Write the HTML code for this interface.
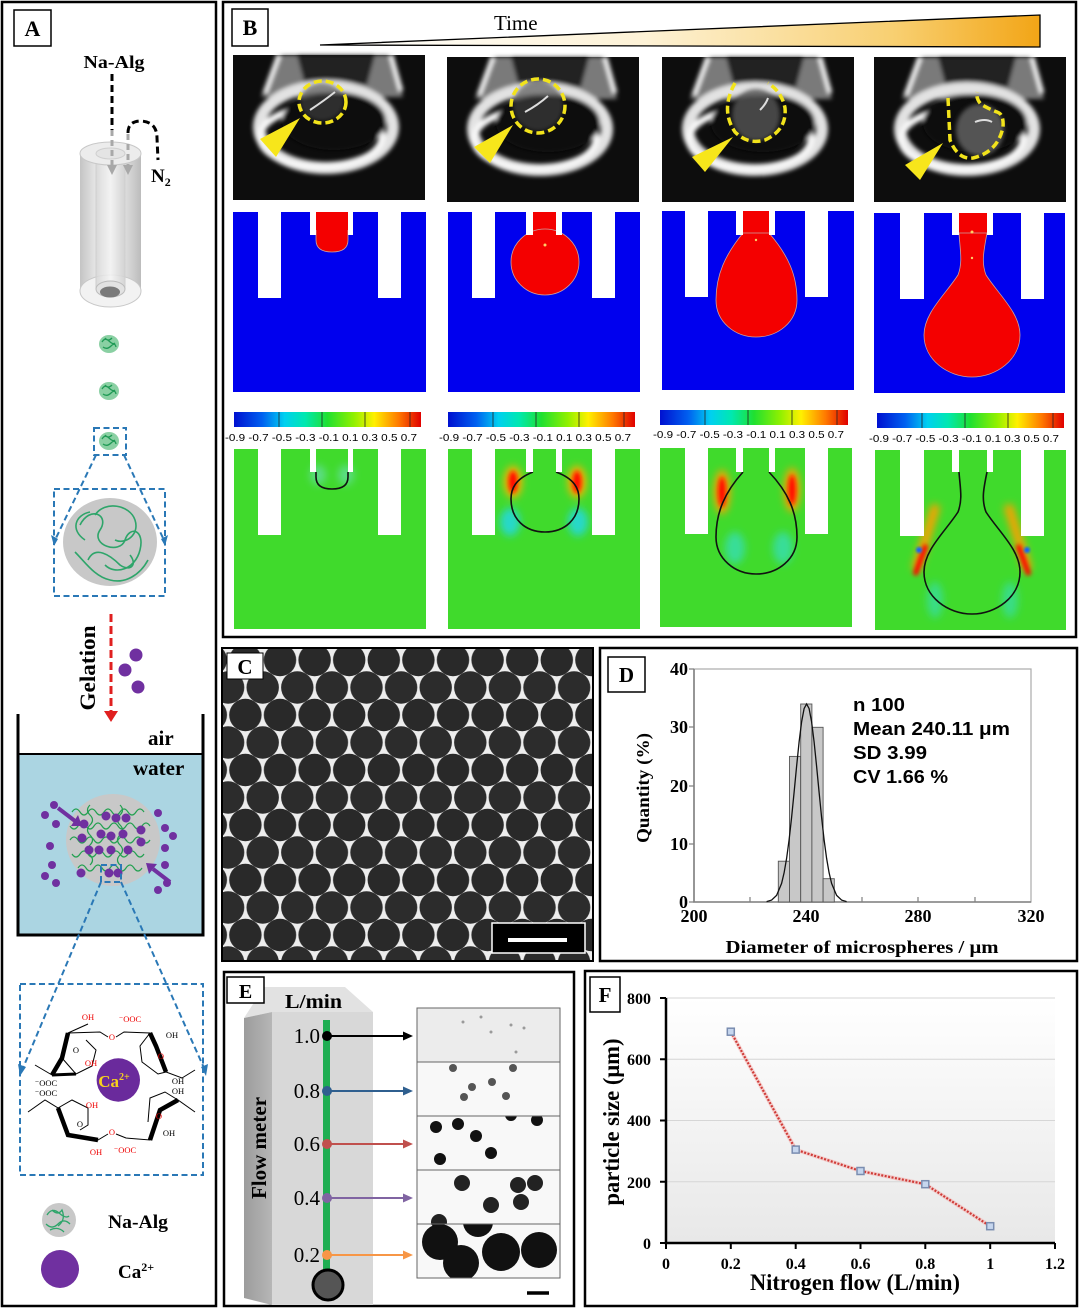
<!DOCTYPE html>
<html><head><meta charset="utf-8">
<style>
html,body{margin:0;padding:0;background:#fff;}
svg{display:block;}
.s{font-family:"Liberation Serif",serif;}
.b{font-family:"Liberation Serif",serif;font-weight:bold;}
.a{font-family:"Liberation Sans",sans-serif;font-weight:bold;}
</style></head><body>
<svg width="1080" height="1309" viewBox="0 0 1080 1309" xmlns="http://www.w3.org/2000/svg">
<defs>
<filter id="bl1" x="-20%" y="-20%" width="140%" height="140%"><feGaussianBlur stdDeviation="1.2"/></filter>
<filter id="bl2" x="-20%" y="-20%" width="140%" height="140%"><feGaussianBlur stdDeviation="2"/></filter>
<filter id="bl4" x="-50%" y="-50%" width="200%" height="200%"><feGaussianBlur stdDeviation="4"/></filter>
<linearGradient id="tri" x1="0" y1="0" x2="1" y2="0">
<stop offset="0" stop-color="#ffffff"/><stop offset="0.45" stop-color="#fdf2d6"/><stop offset="0.8" stop-color="#f8cf70"/><stop offset="1" stop-color="#f2a516"/>
</linearGradient>
<linearGradient id="jet" x1="0" y1="0" x2="1" y2="0">
<stop offset="0" stop-color="#0010d0"/><stop offset="0.15" stop-color="#0060f0"/><stop offset="0.27" stop-color="#00d0f0"/><stop offset="0.38" stop-color="#00e8b0"/><stop offset="0.5" stop-color="#20e030"/><stop offset="0.64" stop-color="#90f000"/><stop offset="0.75" stop-color="#fff000"/><stop offset="0.88" stop-color="#ff7a00"/><stop offset="1" stop-color="#e00000"/>
</linearGradient>
<linearGradient id="cyl" x1="0" y1="0" x2="1" y2="0">
<stop offset="0" stop-color="#c4c4c4"/><stop offset="0.35" stop-color="#f2f2f2"/><stop offset="0.7" stop-color="#e2e2e2"/><stop offset="1" stop-color="#bcbcbc"/>
</linearGradient>
<linearGradient id="cyl2" x1="0" y1="0" x2="1" y2="0">
<stop offset="0" stop-color="#d6d6d6"/><stop offset="0.5" stop-color="#f4f4f4"/><stop offset="1" stop-color="#d0d0d0"/>
</linearGradient>
<linearGradient id="fbg" x1="0" y1="0" x2="0" y2="1">
<stop offset="0" stop-color="#ffffff"/><stop offset="1" stop-color="#e8e8e8"/>
</linearGradient>
<linearGradient id="side" x1="0" y1="0" x2="1" y2="0">
<stop offset="0" stop-color="#9c9c9c"/><stop offset="1" stop-color="#b6b6b6"/>
</linearGradient>
<pattern id="beads" x="280" y="660" width="34.6" height="55" patternUnits="userSpaceOnUse">
<rect width="34.6" height="55" fill="#ededed"/>
<circle cx="0" cy="0" r="16.2" fill="#292929"/>
<circle cx="34.6" cy="0" r="16.2" fill="#292929"/>
<circle cx="0" cy="55" r="16.2" fill="#292929"/>
<circle cx="34.6" cy="55" r="16.2" fill="#292929"/>
<circle cx="17.3" cy="27.5" r="16.2" fill="#2c2c2c"/>
</pattern>
<clipPath id="cpC"><rect x="222" y="648" width="371" height="313"/></clipPath>
<clipPath id="r1"><rect x="417" y="1008" width="143" height="54"/></clipPath>
<clipPath id="r2"><rect x="417" y="1062" width="143" height="54"/></clipPath>
<clipPath id="r3"><rect x="417" y="1116" width="143" height="54"/></clipPath>
<clipPath id="r4"><rect x="417" y="1170" width="143" height="54"/></clipPath>
<clipPath id="r5"><rect x="417" y="1224" width="143" height="54"/></clipPath>
<g id="ph">
<rect width="192" height="145" fill="#0d0d0d"/>
<g filter="url(#bl2)">
<path d="M44,0 L160,0 L170,42 L28,42 Z" fill="#7a7a7a"/>
<path d="M64,0 L142,0 L134,30 L72,30 Z" fill="#242424"/>
<path d="M46,0 L32,38 M158,0 L168,36" stroke="#eeeeee" stroke-width="5" fill="none"/>
<ellipse cx="93" cy="72" rx="67" ry="41" fill="none" stroke="#e2e2e2" stroke-width="12"/>
<ellipse cx="88" cy="82" rx="61" ry="30" fill="none" stroke="#f6f6f6" stroke-width="7"/>
<ellipse cx="101" cy="66" rx="52" ry="29" fill="#0b0b0b"/>
</g>
</g>
<g id="drop">
<ellipse cx="109" cy="344" rx="10" ry="9" fill="#8ad0a3"/>
<path d="M102,342 q3,-5 7,-1 t6,2 M103,347 q4,3 8,-1 t5,1 M105,338 q3,4 7,0" stroke="#1f9a55" stroke-width="1.3" fill="none"/>
</g>
</defs>
<rect width="1080" height="1309" fill="#fff"/>

<!-- ================= PANEL A ================= -->
<rect x="2" y="2" width="214" height="1304" fill="none" stroke="#000" stroke-width="2.5"/>
<rect x="14" y="10" width="37" height="36" fill="#fff" stroke="#000" stroke-width="1.5"/>
<text x="32.5" y="36" class="b" font-size="22" text-anchor="middle">A</text>
<text x="114" y="68" class="b" font-size="18" text-anchor="middle" textLength="61" lengthAdjust="spacingAndGlyphs">Na-Alg</text>
<line x1="112" y1="74" x2="112" y2="130" stroke="#000" stroke-width="3" stroke-dasharray="7 4"/>
<rect x="80" y="153" width="61" height="138" fill="url(#cyl)"/>
<ellipse cx="110.5" cy="291" rx="30.5" ry="16" fill="#f2f2f2" stroke="#c8c8c8"/>
<rect x="96" y="153" width="29" height="136" fill="url(#cyl2)" opacity="0.85"/>
<line x1="96" y1="153" x2="96" y2="289" stroke="#cfcfcf"/>
<line x1="125" y1="153" x2="125" y2="289" stroke="#cfcfcf"/>
<ellipse cx="110.5" cy="289" rx="14.5" ry="8" fill="#e2e2e2" stroke="#bbb"/>
<ellipse cx="110" cy="292" rx="10" ry="5.5" fill="#7a7a7a"/>
<ellipse cx="110.5" cy="153.5" rx="30.5" ry="11.5" fill="#ececec" stroke="#c8c8c8"/>
<ellipse cx="110.5" cy="153.5" rx="14.5" ry="5.5" fill="#e4e4e4" stroke="#cfcfcf"/>
<line x1="112" y1="130" x2="112" y2="166" stroke="#a8a8a8" stroke-width="3" stroke-dasharray="6 4"/>
<polygon points="107,165 117,165 112,175" fill="#a8a8a8"/>
<line x1="128" y1="134" x2="128" y2="166" stroke="#a8a8a8" stroke-width="3" stroke-dasharray="6 4"/>
<polygon points="123,165 133,165 128,175" fill="#a8a8a8"/>
<path d="M128,133 Q128,121 141,121 Q157,122 157,138 L158,160" fill="none" stroke="#000" stroke-width="3" stroke-dasharray="7 4"/>
<text x="151" y="182" class="b" font-size="19">N<tspan font-size="12" dy="4">2</tspan></text>
<use href="#drop"/>
<use href="#drop" y="47"/>
<use href="#drop" y="97"/>
<g stroke="#2a78b6" stroke-width="2" fill="none" stroke-dasharray="6 3.5">
<rect x="94" y="428" width="32" height="27"/>
<rect x="54" y="489" width="111" height="107"/>
<line x1="96" y1="455" x2="56" y2="538"/>
<line x1="124" y1="455" x2="163" y2="538"/>
</g>
<polygon points="51,535 58,539 54,546" fill="#2a78b6"/>
<polygon points="161,539 168,535 165,546" fill="#2a78b6"/>
<ellipse cx="110" cy="542" rx="47" ry="44" fill="#c8c8c8"/>
<g stroke="#2ea56a" stroke-width="1.6" fill="none">
<path d="M80,525 C90,505 110,515 100,530 C90,545 120,555 125,540 C130,525 145,530 140,550 C135,570 115,575 105,565"/>
<path d="M75,552 C85,562 95,577 110,580 C125,584 140,575 148,560"/>
<path d="M95,515 C105,500 130,505 135,520 C140,535 125,545 115,540"/>
<path d="M85,540 C70,530 75,515 90,512"/>
<path d="M88,560 C95,545 110,555 120,565 C130,572 138,565 130,555"/>
</g>
<line x1="111" y1="614" x2="111" y2="712" stroke="#e02020" stroke-width="3" stroke-dasharray="8 4"/>
<polygon points="104,711 118,711 111,722" fill="#e02020"/>
<text transform="translate(95,668) rotate(-90)" class="b" font-size="22" text-anchor="middle" textLength="85" lengthAdjust="spacingAndGlyphs">Gelation</text>
<circle cx="136" cy="655" r="6.5" fill="#7030a0"/>
<circle cx="125" cy="670" r="6.5" fill="#7030a0"/>
<circle cx="138" cy="687" r="6.5" fill="#7030a0"/>
<rect x="18" y="754" width="185" height="181" fill="#abd5e2"/>
<line x1="18" y1="754" x2="203" y2="754" stroke="#000" stroke-width="2"/>
<path d="M18,714 L18,935 L203,935 L203,714" fill="none" stroke="#000" stroke-width="3"/>
<text x="148" y="745" class="b" font-size="21">air</text>
<text x="133" y="775" class="b" font-size="21">water</text>
<ellipse cx="113" cy="840" rx="47" ry="46" fill="#c8c8c8"/>
<g stroke="#22a050" stroke-width="1.2" fill="none">
<path d="M72,812 q4,-6 8,0 t8,0 t8,0 t8,0 t8,0 t8,0 t8,0 t8,0 t8,0"/>
<path d="M70,826 q4,6 8,0 t8,0 t8,0 t8,0 t8,0 t8,0 t8,0 t8,0 t8,0 t8,0"/>
<path d="M70,840 q4,-6 8,0 t8,0 t8,0 t8,0 t8,0 t8,0 t8,0 t8,0 t8,0 t8,0"/>
<path d="M72,854 q4,6 8,0 t8,0 t8,0 t8,0 t8,0 t8,0 t8,0 t8,0 t8,0"/>
<path d="M78,868 q4,-6 8,0 t8,0 t8,0 t8,0 t8,0 t8,0 t8,0 t8,0"/>
<path d="M90,805 q-5,5 0,10 t0,10 t0,10 t0,10 t0,10 t0,10"/>
<path d="M120,805 q5,5 0,10 t0,10 t0,10 t0,10 t0,10 t0,10"/>
</g>
<g fill="#7030a0">
<circle cx="106" cy="816" r="4.5"/><circle cx="116" cy="818" r="4.5"/><circle cx="126" cy="818" r="4.5"/>
<circle cx="84" cy="824" r="4.5"/><circle cx="101" cy="834" r="4.5"/><circle cx="111" cy="836" r="4.5"/>
<circle cx="123" cy="834" r="4.5"/><circle cx="141" cy="830" r="4.5"/><circle cx="82" cy="838" r="4.5"/>
<circle cx="89" cy="850" r="4.5"/><circle cx="99" cy="850" r="4.5"/><circle cx="111" cy="850" r="4.5"/>
<circle cx="128" cy="850" r="4.5"/><circle cx="141" cy="842" r="4.5"/><circle cx="81" cy="873" r="4.5"/>
<circle cx="109" cy="873" r="4.5"/><circle cx="118" cy="873" r="4.5"/>
<circle cx="45" cy="815" r="4"/><circle cx="54" cy="805" r="4"/><circle cx="56" cy="824" r="4"/>
<circle cx="50" cy="846" r="4"/><circle cx="52" cy="865" r="4"/><circle cx="45" cy="876" r="4"/>
<circle cx="56" cy="883" r="4"/><circle cx="158" cy="813" r="4"/><circle cx="165" cy="828" r="4"/>
<circle cx="173" cy="836" r="4"/><circle cx="165" cy="848" r="4"/><circle cx="165" cy="865" r="4"/>
<circle cx="167" cy="883" r="4"/><circle cx="158" cy="890" r="4"/>
</g>
<line x1="58" y1="808" x2="75" y2="821" stroke="#7030a0" stroke-width="4"/>
<polygon points="82,826 71,826 78,815" fill="#7030a0"/>
<line x1="170" y1="882" x2="153" y2="869" stroke="#7030a0" stroke-width="4"/>
<polygon points="146,863 157,864 149,874" fill="#7030a0"/>
<g stroke="#2a78b6" stroke-width="2" fill="none" stroke-dasharray="6 3.5">
<rect x="101" y="865" width="20" height="17"/>
<line x1="101" y1="882" x2="23" y2="1068"/>
<line x1="121" y1="882" x2="204" y2="1068"/>
<rect x="20" y="984" width="183" height="191"/>
</g>
<polygon points="18,1064 26,1067 20,1076" fill="#2a78b6"/>
<polygon points="201,1067 208,1064 206,1076" fill="#2a78b6"/>
<g stroke="#000" fill="none" stroke-width="1">
<path d="M35,1065 L52,1075 L62,1058 L68,1033 L100,1032 L108,1037"/>
<path d="M68,1033 L88,1024"/>
<path d="M62,1058 L76,1074 L92,1066 L96,1050 L86,1040"/>
<path d="M68,1033 L62,1058 L52,1075" stroke-width="4.5"/>
<path d="M52,1075 L76,1074" stroke-width="3"/>
<path d="M116,1037 L124,1032 L150,1033 L156,1046 L166,1072 L182,1078 L195,1070"/>
<path d="M150,1033 L140,1046 L142,1062 L158,1074 L166,1072"/>
<path d="M150,1033 L156,1046 L166,1072" stroke-width="4.5"/>
<path d="M28,1112 L45,1100 L58,1108 L68,1135 L98,1140 L108,1134"/>
<path d="M58,1108 L72,1100 L88,1108 L88,1125 L80,1130"/>
<path d="M58,1108 L68,1135 L98,1140" stroke-width="4.5"/>
<path d="M116,1134 L126,1138 L150,1140 L160,1110 L178,1100 L195,1112"/>
<path d="M178,1100 L165,1092 L150,1098 L148,1122"/>
<path d="M150,1140 L160,1110 L178,1100" stroke-width="4.5"/>
</g>
<g class="s" font-size="8.5" text-anchor="middle">
<text x="88" y="1020" fill="#e00">OH</text>
<text x="130" y="1022" fill="#e00">⁻OOC</text>
<text x="112" y="1040" fill="#e00">O</text>
<text x="172" y="1038" fill="#000">OH</text>
<text x="76" y="1053" fill="#000">O</text>
<text x="161" y="1059" fill="#e00">O</text>
<text x="91" y="1066" fill="#e00">OH</text>
<text x="178" y="1084" fill="#000">OH</text>
<text x="46" y="1086" fill="#000">⁻OOC</text>
<text x="46" y="1096" fill="#000">⁻OOC</text>
<text x="178" y="1094" fill="#000">OH</text>
<text x="92" y="1108" fill="#e00">OH</text>
<text x="159" y="1119" fill="#e00">O</text>
<text x="80" y="1127" fill="#000">O</text>
<text x="112" y="1135" fill="#e00">O</text>
<text x="169" y="1136" fill="#000">OH</text>
<text x="96" y="1155" fill="#e00">OH</text>
<text x="125" y="1153" fill="#e00">⁻OOC</text>
</g>
<circle cx="118.3" cy="1080" r="21.7" fill="#6a2a9c"/>
<text x="114" y="1087" class="b" font-size="17" fill="#f7d21c" text-anchor="middle">Ca<tspan font-size="10" dy="-7">2+</tspan></text>
<circle cx="59" cy="1220" r="17" fill="#c8c8c8"/>
<path d="M47,1215 q5,-8 12,-2 t10,3 M46,1224 q6,6 12,0 t12,0 M52,1210 q6,6 10,0 q4,10 -4,16 M50,1230 q8,-4 14,2" stroke="#2ea56a" stroke-width="1.3" fill="none"/>
<text x="108" y="1228" class="b" font-size="19" textLength="60" lengthAdjust="spacingAndGlyphs">Na-Alg</text>
<circle cx="60" cy="1269" r="19" fill="#7030a0"/>
<text x="118" y="1278" class="b" font-size="19">Ca<tspan font-size="12" dy="-7">2+</tspan></text>

<!-- ================= PANEL B ================= -->
<rect x="223" y="2" width="853" height="635" fill="none" stroke="#000" stroke-width="2.5"/>
<rect x="232" y="9" width="36" height="37" fill="#fff" stroke="#000" stroke-width="1.5"/>
<text x="250" y="35" class="b" font-size="22" text-anchor="middle">B</text>
<text x="494" y="30" class="s" font-size="21">Time</text>
<polygon points="320,45 1040,15 1040,47" fill="url(#tri)" stroke="#000" stroke-width="1.3"/>
<use href="#ph" x="233" y="55"/>
<use href="#ph" x="447" y="57"/>
<use href="#ph" x="662" y="57"/>
<use href="#ph" x="874" y="57"/>
<ellipse cx="322" cy="102" rx="22" ry="19" fill="#444" opacity="0.6" filter="url(#bl2)"/>
<ellipse cx="538" cy="106" rx="25" ry="25" fill="#444" opacity="0.6" filter="url(#bl2)"/>
<ellipse cx="756" cy="115" rx="24" ry="26" fill="#555" opacity="0.8" filter="url(#bl2)"/>
<ellipse cx="980" cy="130" rx="24" ry="26" fill="#666" opacity="0.8" filter="url(#bl2)"/>
<path d="M310,110 Q325,100 335,92 M525,112 Q538,105 548,96 M760,110 Q766,104 768,98 M975,122 Q985,118 992,122" stroke="#ddd" stroke-width="2" fill="none"/>
<g fill="none" stroke="#f2e31b" stroke-width="3.5" stroke-dasharray="8 4">
<ellipse cx="322.5" cy="102" rx="23.5" ry="21"/>
<ellipse cx="538" cy="106" rx="27" ry="27"/>
<path d="M735,83 Q720,110 735,132 Q748,145 765,140 Q787,130 785,108 Q782,92 768,83"/>
<path d="M948,98 L950,140 Q958,160 973,158 Q998,152 1003,127 Q1004,114 997,112 Q982,106 980,103 Q976,98 977,92"/>
</g>
<g fill="#f7e61b">
<polygon points="300,118 260,139 276,157"/>
<polygon points="513,125 474,147 490,163"/>
<polygon points="733,137 692,157 705,172"/>
<polygon points="943,143 905,165 920,180"/>
</g>
<g>
<rect x="233" y="212" width="193" height="180" fill="#0000ee"/>
<rect x="448" y="212" width="192" height="180" fill="#0000ee"/>
<rect x="662" y="211" width="192" height="179" fill="#0000ee"/>
<rect x="874" y="213" width="191" height="180" fill="#0000ee"/>
<g fill="#fff">
<rect x="258" y="212" width="23" height="86"/><rect x="378" y="212" width="23" height="86"/>
<rect x="472" y="212" width="23" height="86"/><rect x="592" y="212" width="23" height="86"/>
<rect x="685" y="211" width="23" height="86"/><rect x="805" y="211" width="23" height="86"/>
<rect x="900" y="213" width="24" height="86"/><rect x="1021" y="213" width="23" height="86"/>
</g>
<g fill="#f40000" stroke="#c9a0a0" stroke-width="0.8">
<rect x="316" y="212" width="32" height="23" stroke="none"/>
<path d="M316,230 L316,240 Q316,252 332,252 Q348,252 348,240 L348,230"/>
<rect x="533" y="212" width="23" height="23" stroke="none"/>
<ellipse cx="545" cy="262" rx="34" ry="33"/>
<rect x="743" y="211" width="26" height="24" stroke="none"/>
<path d="M743,233 C725,255 716,275 716,300 C716,322 735,337 756,337 C778,337 797,322 797,300 C797,275 788,255 769,233 Z"/>
<rect x="959" y="213" width="28" height="22" stroke="none"/>
<path d="M959,233 C960,250 963,262 958,275 C945,295 924,313 924,335 C924,360 948,377 972,377 C996,377 1020,360 1020,335 C1020,313 999,295 986,275 C981,262 984,250 987,233 Z"/>
</g>
<g fill="#fff">
<rect x="310" y="212" width="6" height="23"/><rect x="348" y="212" width="5" height="23"/>
<rect x="526" y="212" width="7" height="23"/><rect x="556" y="212" width="6" height="23"/>
<rect x="736" y="211" width="7" height="24"/><rect x="769" y="211" width="6" height="24"/>
<rect x="952" y="213" width="7" height="22"/><rect x="987" y="213" width="6" height="22"/>
</g>
<g fill="#ffcc66"><circle cx="545" cy="245" r="1.5"/><circle cx="756" cy="240" r="1.2"/><circle cx="972" cy="232" r="1.5"/><circle cx="972" cy="258" r="1.2"/></g>
</g>
<g>
<rect x="234" y="412" width="187" height="15" fill="url(#jet)"/>
<rect x="448" y="412" width="187" height="15" fill="url(#jet)"/>
<rect x="660" y="410" width="188" height="15" fill="url(#jet)"/>
<rect x="877" y="413" width="187" height="15" fill="url(#jet)"/>
<g stroke="#222" stroke-width="0.8">
<path d="M279,412v15M322,412v15M365,412v15M410,412v15"/>
<path d="M493,412v15M536,412v15M579,412v15M624,412v15"/>
<path d="M705,410v15M748,410v15M792,410v15M837,410v15"/>
<path d="M922,413v15M965,413v15M1008,413v15M1053,413v15"/>
</g>
<g font-family="Liberation Sans, sans-serif" font-size="10.5">
<text x="225" y="441" textLength="192" lengthAdjust="spacingAndGlyphs">-0.9 -0.7 -0.5 -0.3 -0.1 0.1 0.3 0.5 0.7</text>
<text x="439" y="441" textLength="192" lengthAdjust="spacingAndGlyphs">-0.9 -0.7 -0.5 -0.3 -0.1 0.1 0.3 0.5 0.7</text>
<text x="653" y="438" textLength="191" lengthAdjust="spacingAndGlyphs">-0.9 -0.7 -0.5 -0.3 -0.1 0.1 0.3 0.5 0.7</text>
<text x="869" y="442" textLength="190" lengthAdjust="spacingAndGlyphs">-0.9 -0.7 -0.5 -0.3 -0.1 0.1 0.3 0.5 0.7</text>
</g>
</g>
<g>
<rect x="234" y="449" width="192" height="180" fill="#40da2c"/>
<rect x="448" y="449" width="192" height="180" fill="#40da2c"/>
<rect x="660" y="448" width="192" height="179" fill="#40da2c"/>
<rect x="875" y="450" width="191" height="180" fill="#40da2c"/>
<g filter="url(#bl4)">
<ellipse cx="318" cy="475" rx="8" ry="10" fill="#6ee0c0" opacity="0.6"/>
<ellipse cx="346" cy="475" rx="8" ry="10" fill="#6ee0c0" opacity="0.6"/>
<ellipse cx="513" cy="482" rx="9" ry="16" fill="#ffb000"/>
<ellipse cx="577" cy="482" rx="9" ry="16" fill="#ffb000"/>
<ellipse cx="510" cy="522" rx="10" ry="14" fill="#20d8f0" opacity="0.8"/>
<ellipse cx="578" cy="522" rx="10" ry="14" fill="#20d8f0" opacity="0.8"/>
<ellipse cx="722" cy="492" rx="8" ry="22" fill="#ffa000"/>
<ellipse cx="792" cy="490" rx="8" ry="22" fill="#ffa000"/>
<ellipse cx="735" cy="548" rx="10" ry="16" fill="#30e0e0" opacity="0.6"/>
<ellipse cx="783" cy="548" rx="10" ry="16" fill="#30e0e0" opacity="0.6"/>
<line x1="936" y1="505" x2="916" y2="570" stroke="#ffa000" stroke-width="9"/>
<line x1="1008" y1="505" x2="1028" y2="570" stroke="#ffa000" stroke-width="9"/>
<ellipse cx="935" cy="600" rx="8" ry="18" fill="#30e0e0" opacity="0.5"/>
<ellipse cx="1010" cy="600" rx="8" ry="18" fill="#30e0e0" opacity="0.5"/>
</g>
<g filter="url(#bl2)">
<ellipse cx="513" cy="482" rx="4.5" ry="11" fill="#ff1000"/>
<ellipse cx="577" cy="482" rx="4.5" ry="11" fill="#ff1000"/>
<ellipse cx="722" cy="492" rx="4" ry="15" fill="#ff1000"/>
<ellipse cx="792" cy="490" rx="4" ry="15" fill="#ff1000"/>
<line x1="926" y1="545" x2="915" y2="575" stroke="#ff0000" stroke-width="5"/>
<line x1="1018" y1="545" x2="1029" y2="575" stroke="#ff0000" stroke-width="5"/>
</g>
<circle cx="919" cy="550" r="3" fill="#1060ff" filter="url(#bl1)"/>
<circle cx="1027" cy="550" r="3" fill="#1060ff" filter="url(#bl1)"/>
<g transform="translate(0,237)">
<g fill="#fff">
<rect x="258" y="212" width="23" height="86"/><rect x="378" y="212" width="23" height="86"/>
<rect x="472" y="212" width="23" height="86"/><rect x="592" y="212" width="23" height="86"/>
<rect x="685" y="211" width="23" height="86"/><rect x="805" y="211" width="23" height="86"/>
<rect x="900" y="213" width="24" height="86"/><rect x="1021" y="213" width="23" height="86"/>
</g>
<g fill="none" stroke="#111" stroke-width="1.6">
<path d="M316,235 L316,240 Q316,252 332,252 Q348,252 348,240 L348,235"/>
<path d="M533,235 C515,242 511,252 511,262 C511,282 525,295 545,295 C565,295 579,282 579,262 C579,252 575,242 556,235"/>
<path d="M743,235 C725,255 716,275 716,300 C716,322 735,337 756,337 C778,337 797,322 797,300 C797,275 788,255 769,235"/>
<path d="M959,235 C960,250 963,262 958,275 C945,295 924,313 924,335 C924,360 948,377 972,377 C996,377 1020,360 1020,335 C1020,313 999,295 986,275 C981,262 984,250 987,235"/>
</g>
<g fill="#fff">
<rect x="310" y="212" width="6" height="23"/><rect x="348" y="212" width="5" height="23"/>
<rect x="526" y="212" width="7" height="23"/><rect x="556" y="212" width="6" height="23"/>
<rect x="736" y="211" width="7" height="24"/><rect x="769" y="211" width="6" height="24"/>
<rect x="952" y="213" width="7" height="22"/><rect x="987" y="213" width="6" height="22"/>
</g>
</g>
</g>

<!-- ================= PANEL C ================= -->
<g clip-path="url(#cpC)">
<rect x="222" y="648" width="371" height="313" fill="url(#beads)"/>
</g>
<rect x="222" y="648" width="371" height="313" fill="none" stroke="#000" stroke-width="2"/>
<rect x="227" y="653" width="36" height="26" fill="#fff" stroke="#000" stroke-width="1"/>
<text x="245" y="674" class="b" font-size="21" text-anchor="middle">C</text>
<rect x="492" y="923" width="93" height="30" fill="#000" stroke="#fff" stroke-width="1.5"/>
<line x1="508" y1="940" x2="567" y2="940" stroke="#fff" stroke-width="4"/>

<!-- ================= PANEL D ================= -->
<rect x="600" y="648" width="477" height="313" fill="none" stroke="#000" stroke-width="2.5"/>
<rect x="608" y="657" width="37" height="35" fill="#fff" stroke="#000" stroke-width="1.5"/>
<text x="626.5" y="682" class="b" font-size="21" text-anchor="middle">D</text>
<rect x="694" y="669" width="337" height="233" fill="none" stroke="#aaa" stroke-width="1.2"/>
<path d="M694,669 L694,902 L1031,902" fill="none" stroke="#808080" stroke-width="1.6"/>
<g stroke="#808080" stroke-width="1.2">
<path d="M689,669h5M689,727h5M689,786h5M689,844h5M689,902h5"/>
<path d="M750,902v-5M806,902v-5M862,902v-5M918,902v-5M975,902v-5"/>
</g>
<g class="b" font-size="18" text-anchor="end">
<text x="688" y="675">40</text><text x="688" y="733">30</text><text x="688" y="792">20</text><text x="688" y="850">10</text><text x="688" y="908">0</text>
</g>
<g class="b" font-size="18" text-anchor="middle">
<text x="694" y="922">200</text><text x="806" y="922">240</text><text x="918" y="922">280</text><text x="1031" y="922">320</text>
</g>
<text transform="translate(649,788) rotate(-90)" class="b" font-size="18" text-anchor="middle" textLength="110" lengthAdjust="spacingAndGlyphs">Quantity (%)</text>
<text x="862" y="953" class="b" font-size="18" text-anchor="middle" textLength="273" lengthAdjust="spacingAndGlyphs">Diameter of microspheres / μm</text>
<g fill="#c8c8c8" stroke="#555" stroke-width="0.9">
<rect x="778.3" y="861.2" width="11.2" height="40.8"/>
<rect x="789.5" y="756.4" width="11.2" height="145.6"/>
<rect x="800.7" y="704" width="11.2" height="198"/>
<rect x="811.9" y="727.3" width="11.2" height="174.7"/>
<rect x="823.1" y="878.7" width="11.2" height="23.3"/>
</g>
<polyline fill="none" stroke="#111" stroke-width="1.3" points="766.6,901.6 771.6,900.1 776.6,895.4 781.6,883.4 784.1,872.8 786.6,858.4 789.1,839.8 791.6,817.4 794.1,792.3 796.6,766.3 799.1,741.9 801.6,721.9 804.1,708.6 806.6,704 809.1,708.6 811.6,721.9 814.1,741.9 816.6,766.3 819.1,792.3 821.6,817.4 824.1,839.8 826.6,858.4 829.1,872.8 831.6,883.4 836.6,895.4 841.6,900.1 846.6,901.6"/>
<g class="a" font-size="18.5">
<text x="853" y="711" textLength="52" lengthAdjust="spacingAndGlyphs">n 100</text>
<text x="853" y="735" textLength="157" lengthAdjust="spacingAndGlyphs">Mean 240.11 μm</text>
<text x="853" y="759" textLength="74" lengthAdjust="spacingAndGlyphs">SD 3.99</text>
<text x="853" y="783" textLength="95" lengthAdjust="spacingAndGlyphs">CV 1.66 %</text>
</g>

<!-- ================= PANEL E ================= -->
<rect x="224" y="972" width="350" height="334" fill="none" stroke="#000" stroke-width="2.5"/>
<polygon points="264,987 345,987 373,1012 272,1012 244,1018" fill="#e2e2e2"/>
<polygon points="244,1018 272,1012 272,1305 244,1298" fill="url(#side)"/>
<polygon points="272,1012 373,1012 373,1305 272,1305" fill="#d8d8d8"/>
<rect x="227" y="977" width="37" height="26" fill="#fff" stroke="#000" stroke-width="1.5"/>
<text x="245.5" y="998" class="b" font-size="20" text-anchor="middle">E</text>
<text x="285" y="1008" class="b" font-size="20" textLength="57" lengthAdjust="spacingAndGlyphs">L/min</text>
<rect x="323" y="1020" width="7" height="258" fill="#1fae52"/>
<circle cx="328" cy="1285" r="15" fill="#555" stroke="#000" stroke-width="3"/>
<g class="s" font-size="21" text-anchor="end">
<text x="320" y="1043">1.0</text><text x="320" y="1098">0.8</text><text x="320" y="1151">0.6</text><text x="320" y="1205">0.4</text><text x="320" y="1262">0.2</text>
</g>
<text transform="translate(266,1148) rotate(-90)" class="b" font-size="21" text-anchor="middle">Flow meter</text>
<g stroke-width="2">
<line x1="327" y1="1036" x2="405" y2="1036" stroke="#000"/><polygon points="403,1031.5 413,1036 403,1040.5" fill="#000"/>
<line x1="327" y1="1091" x2="405" y2="1091" stroke="#2f5f8f"/><polygon points="403,1086.5 413,1091 403,1095.5" fill="#2f5f8f"/>
<line x1="327" y1="1144" x2="405" y2="1144" stroke="#c0504d"/><polygon points="403,1139.5 413,1144 403,1148.5" fill="#c0504d"/>
<line x1="327" y1="1198" x2="405" y2="1198" stroke="#8064a2"/><polygon points="403,1193.5 413,1198 403,1202.5" fill="#8064a2"/>
<line x1="327" y1="1255" x2="405" y2="1255" stroke="#f79646"/><polygon points="403,1250.5 413,1255 403,1259.5" fill="#f79646"/>
</g>
<circle cx="327" cy="1036" r="5" fill="#000"/>
<circle cx="327" cy="1091" r="5" fill="#2f5f8f"/>
<circle cx="327" cy="1144" r="5" fill="#c0504d"/>
<circle cx="327" cy="1198" r="5" fill="#8064a2"/>
<circle cx="327" cy="1255" r="5" fill="#f79646"/>
<rect x="417" y="1008" width="143" height="54" fill="#ececec"/>
<rect x="417" y="1062" width="143" height="216" fill="#f8f8f8"/>
<g clip-path="url(#r1)" fill="#9a9a9a">
<circle cx="463" cy="1022" r="1.5"/><circle cx="481" cy="1017" r="1.5"/><circle cx="491" cy="1032" r="1.5"/><circle cx="511" cy="1025" r="1.5"/><circle cx="524" cy="1028" r="1.5"/><circle cx="516" cy="1052" r="1.5"/>
</g>
<g clip-path="url(#r2)" fill="#555">
<circle cx="453" cy="1068" r="4"/><circle cx="513" cy="1068" r="4"/><circle cx="472" cy="1087" r="4"/><circle cx="492" cy="1082" r="4"/><circle cx="464" cy="1097" r="4"/><circle cx="506" cy="1096" r="4"/>
</g>
<g clip-path="url(#r3)" fill="#111">
<circle cx="436" cy="1127" r="6"/><circle cx="458" cy="1124" r="6"/><circle cx="476" cy="1136" r="6"/><circle cx="491" cy="1153" r="6"/><circle cx="440" cy="1159" r="6"/><circle cx="511" cy="1115" r="6"/><circle cx="537" cy="1120" r="6"/>
</g>
<g clip-path="url(#r4)" fill="#222">
<circle cx="462" cy="1183" r="8"/><circle cx="518" cy="1185" r="8"/><circle cx="535" cy="1183" r="8"/><circle cx="521" cy="1202" r="8"/><circle cx="491" cy="1205" r="8"/><circle cx="439" cy="1222" r="8"/>
</g>
<g clip-path="url(#r5)" fill="#111">
<circle cx="440" cy="1242" r="18"/><circle cx="461" cy="1263" r="18"/><circle cx="501" cy="1252" r="19"/><circle cx="539" cy="1250" r="18"/><circle cx="478" cy="1222" r="15"/><circle cx="438" cy="1220" r="8"/>
</g>
<g stroke="#666" stroke-width="1" fill="none">
<rect x="417" y="1008" width="143" height="270"/>
<path d="M417,1062h143M417,1116h143M417,1170h143M417,1224h143"/>
</g>
<line x1="527" y1="1293" x2="549" y2="1293" stroke="#000" stroke-width="3.5"/>

<!-- ================= PANEL F ================= -->
<rect x="585" y="971" width="492" height="335" fill="none" stroke="#000" stroke-width="2.5"/>
<rect x="666" y="998" width="389" height="245" fill="url(#fbg)"/>
<g stroke="#d6d6d6" stroke-width="1">
<path d="M666,998h389M666,1059.25h389M666,1120.5h389M666,1181.75h389"/>
</g>
<path d="M666,998 L666,1243 L1055,1243" fill="none" stroke="#000" stroke-width="2.5"/>
<g stroke="#000" stroke-width="2">
<path d="M660,998h6M660,1059.25h6M660,1120.5h6M660,1181.75h6M660,1243h6"/>
<path d="M666,1243v6M730.8,1243v6M795.7,1243v6M860.5,1243v6M925.3,1243v6M990.2,1243v6M1055,1243v6"/>
</g>
<rect x="590" y="977" width="30" height="35" fill="#fff" stroke="#000" stroke-width="1.5"/>
<text x="605" y="1002" class="b" font-size="21" text-anchor="middle">F</text>
<g class="b" font-size="16" text-anchor="end">
<text x="651" y="1004">800</text><text x="651" y="1065">600</text><text x="651" y="1126">400</text><text x="651" y="1188">200</text><text x="651" y="1249">0</text>
</g>
<g class="b" font-size="16" text-anchor="middle">
<text x="666" y="1269">0</text><text x="730.8" y="1269">0.2</text><text x="795.7" y="1269">0.4</text><text x="860.5" y="1269">0.6</text><text x="925.3" y="1269">0.8</text><text x="990.2" y="1269">1</text><text x="1055" y="1269">1.2</text>
</g>
<text x="855" y="1290" class="b" font-size="23" text-anchor="middle" textLength="210" lengthAdjust="spacingAndGlyphs">Nitrogen flow (L/min)</text>
<text transform="translate(619,1122) rotate(-90)" class="b" font-size="23" text-anchor="middle" textLength="167" lengthAdjust="spacingAndGlyphs">particle size (μm)</text>
<polyline fill="none" stroke="#f3b6b4" stroke-width="4" opacity="0.6" points="730.8,1031.7 795.7,1149.6 860.5,1171 925.3,1184.2 990.2,1226.2"/>
<polyline fill="none" stroke="#cf3b37" stroke-width="2.2" stroke-dasharray="2 1.5" points="730.8,1031.7 795.7,1149.6 860.5,1171 925.3,1184.2 990.2,1226.2"/>
<g fill="#c6d6ee" stroke="#7a8db0" stroke-width="1.5">
<rect x="727.3" y="1028.2" width="7" height="7"/>
<rect x="792.2" y="1146.1" width="7" height="7"/>
<rect x="857" y="1167.5" width="7" height="7"/>
<rect x="921.8" y="1180.7" width="7" height="7"/>
<rect x="986.7" y="1222.7" width="7" height="7"/>
</g>
</svg>
</body></html>
